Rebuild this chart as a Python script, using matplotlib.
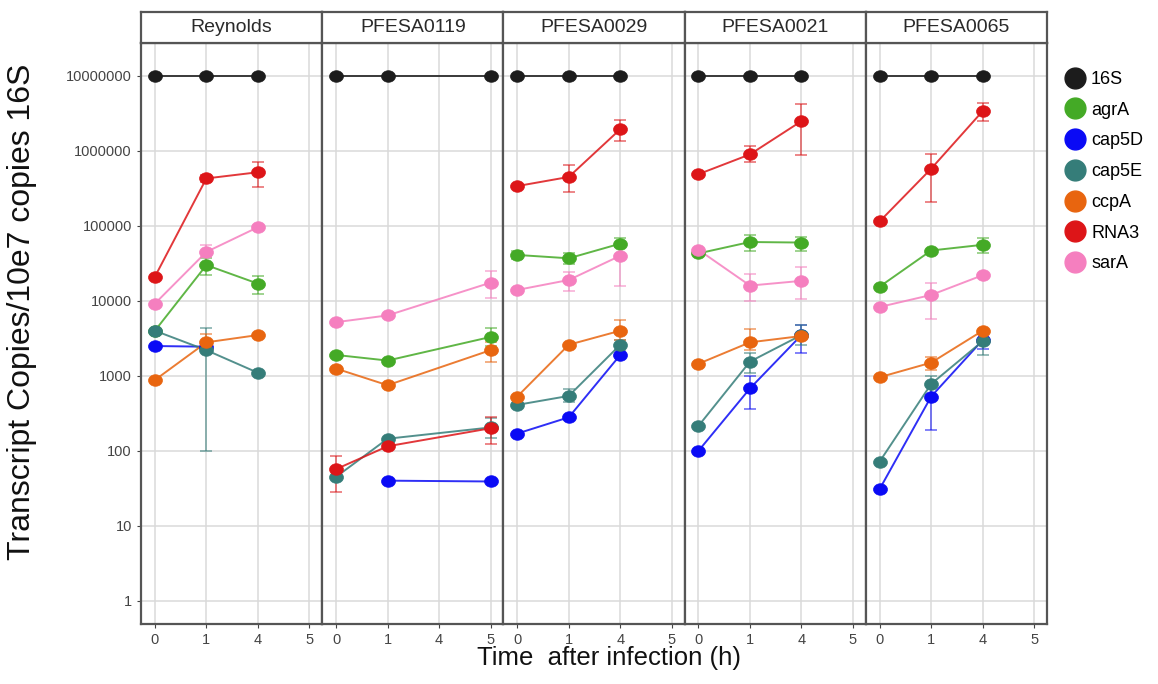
import numpy as np
import matplotlib
matplotlib.use("Agg")
import matplotlib.pyplot as plt
from matplotlib.lines import Line2D
from matplotlib.path import Path

plt.rcParams['font.family'] = ['Liberation Sans', 'DejaVu Sans']

nan = np.nan

# x categories (hours after infection)
times = ['0', '1', '4', '5']
genes = ['16S', 'agrA', 'cap5D', 'cap5E', 'ccpA', 'RNA3', 'sarA']
strains = ['Reynolds', 'PFESA0119', 'PFESA0029', 'PFESA0021', 'PFESA0065']

# mean transcript copies per strain, one value per time category
reynolds = {
    '16S':   [1e7, 1e7, 1e7, nan],
    'agrA':  [4000, 30000, 17000, nan],
    'cap5D': [2500, 2450, nan, nan],
    'cap5E': [4000, 2200, 1100, nan],
    'ccpA':  [880, 2800, 3500, nan],
    'RNA3':  [21000, 430000, 520000, nan],
    'sarA':  [9200, 45000, 96000, nan],
}
pfesa0119 = {
    '16S':   [1e7, 1e7, nan, 1e7],
    'agrA':  [1900, 1600, nan, 3300],
    'cap5D': [nan, 40, nan, 39],
    'cap5E': [45, 145, nan, 205],
    'ccpA':  [1250, 750, nan, 2200],
    'RNA3':  [57, 115, nan, 200],
    'sarA':  [5200, 6400, nan, 17500],
}
pfesa0029 = {
    '16S':   [1e7, 1e7, 1e7, nan],
    'agrA':  [41000, 37000, 58000, nan],
    'cap5D': [170, 280, 1900, nan],
    'cap5E': [410, 540, 2600, nan],
    'ccpA':  [530, 2600, 4000, nan],
    'RNA3':  [340000, 450000, 1.95e6, nan],
    'sarA':  [14000, 19000, 40000, nan],
}
pfesa0021 = {
    '16S':   [1e7, 1e7, 1e7, nan],
    'agrA':  [43000, 61000, 60000, nan],
    'cap5D': [100, 680, 3500, nan],
    'cap5E': [215, 1550, 3500, nan],
    'ccpA':  [1450, 2800, 3400, nan],
    'RNA3':  [490000, 900000, 2.5e6, nan],
    'sarA':  [48000, 16000, 18500, nan],
}
pfesa0065 = {
    '16S':   [1e7, 1e7, 1e7, nan],
    'agrA':  [15500, 47000, 56000, nan],
    'cap5D': [31, 530, 3000, nan],
    'cap5E': [72, 780, 2900, nan],
    'ccpA':  [960, 1500, 4000, nan],
    'RNA3':  [115000, 580000, 3.4e6, nan],
    'sarA':  [8300, 12000, 22000, nan],
}

# error bars: gene -> list of (time index, low, high)
reynolds_err = {
    'agrA':  [(1, 22000, 37000), (2, 12500, 21500)],
    'cap5E': [(1, 100, 4400)],
    'ccpA':  [(1, 2200, 3600)],
    'RNA3':  [(1, 380000, 480000), (2, 330000, 720000)],
    'sarA':  [(1, 38000, 55000)],
}
pfesa0119_err = {
    'agrA':  [(3, 2500, 4300)],
    'cap5E': [(3, 150, 270)],
    'ccpA':  [(3, 1550, 2800)],
    'RNA3':  [(0, 28, 85), (3, 125, 280)],
    'sarA':  [(3, 11000, 25000)],
}
pfesa0029_err = {
    'agrA':  [(0, 36000, 47000), (1, 31000, 43000), (2, 52000, 68000)],
    'cap5E': [(1, 450, 660), (2, 2200, 3000)],
    'ccpA':  [(2, 3000, 5500)],
    'RNA3':  [(1, 280000, 650000), (2, 1.35e6, 2.6e6)],
    'sarA':  [(1, 13500, 24000), (2, 16000, 55000)],
}
pfesa0021_err = {
    'agrA':  [(1, 46000, 75000), (2, 46000, 72000)],
    'cap5D': [(1, 360, 1000), (2, 2000, 4800)],
    'cap5E': [(1, 1100, 2000), (2, 2600, 4800)],
    'ccpA':  [(1, 2200, 4200)],
    'RNA3':  [(1, 720000, 1.15e6), (2, 880000, 4.2e6)],
    'sarA':  [(1, 10000, 23000), (2, 10500, 28000)],
}
pfesa0065_err = {
    'agrA':  [(2, 44000, 68000)],
    'cap5D': [(1, 190, 750), (2, 2300, 3600)],
    'cap5E': [(1, 560, 1000), (2, 1900, 3600)],
    'ccpA':  [(1, 1200, 1800)],
    'RNA3':  [(1, 210000, 920000), (2, 2.5e6, 4.4e6)],
    'sarA':  [(1, 5800, 17500)],
}

panel_data = [reynolds, pfesa0119, pfesa0029, pfesa0021, pfesa0065]
panel_err = [reynolds_err, pfesa0119_err, pfesa0029_err, pfesa0021_err, pfesa0065_err]

colors = {
    '16S': '#1c1c1c',
    'agrA': '#44aa26',
    'cap5D': '#0a0af5',
    'cap5E': '#357d79',
    'ccpA': '#e8650f',
    'RNA3': '#dd1518',
    'sarA': '#f57fbf',
}

# slightly wide dot, like the stretched source image
theta = np.linspace(0, 2 * np.pi, 60)
oval = Path(np.column_stack([1.2 * np.cos(theta), np.sin(theta)]), closed=True)

fig = plt.figure(figsize=(11.58, 6.84), dpi=100)
W, H = 1158.0, 684.0
left_px, right_px = 141, 1047
top_px, bottom_px, strip_top_px = 43, 624, 12
pw = (right_px - left_px) / len(strains)
frame_col = '#555555'

x = np.arange(len(times))
for i, (name, data, err) in enumerate(zip(strains, panel_data, panel_err)):
    x0 = left_px + i * pw
    ax = fig.add_axes([x0 / W, 1 - bottom_px / H, pw / W, (bottom_px - top_px) / H])
    ax.set_yscale('log')
    ax.set_ylim(10 ** -0.31, 10 ** 7.44)
    ax.set_xlim(-0.27, 3.25)
    ax.set_xticks(x)
    ax.set_xticklabels(times)
    ax.set_yticks([10 ** k for k in range(8)])
    ax.yaxis.set_minor_locator(matplotlib.ticker.NullLocator())
    ax.grid(True, color='#dadada', lw=1.1)
    ax.set_axisbelow(True)
    for s in ax.spines.values():
        s.set_color(frame_col)
        s.set_linewidth(1.6)
    ax.tick_params(axis='both', colors='#444444', labelsize=10.5, length=3, width=0.8)
    if i == 0:
        ax.set_yticklabels([str(10 ** k) for k in range(8)])
    else:
        ax.tick_params(axis='y', length=0, labelleft=False)

    for g in genes:
        vals = np.array(data[g], dtype=float)
        ok = ~np.isnan(vals)
        for (ti, lo, hi) in err.get(g, []):
            ax.errorbar([ti], [vals[ti]], yerr=[[vals[ti] - lo], [hi - vals[ti]]],
                        fmt='none', ecolor=colors[g], alpha=0.6, elinewidth=1.2,
                        capsize=4, capthick=1.2, zorder=2)
        ax.plot(x[ok], vals[ok], '-', color=colors[g], lw=1.4, alpha=0.85, zorder=3)
        ax.plot(x[ok], vals[ok], ls='none', marker=oval, color=colors[g], ms=10,
                zorder=4, markeredgecolor=colors[g], markeredgewidth=0.5)

    # facet strip
    sax = fig.add_axes([x0 / W, 1 - top_px / H, pw / W, (top_px - strip_top_px) / H])
    sax.set_xticks([])
    sax.set_yticks([])
    for s in sax.spines.values():
        s.set_color(frame_col)
        s.set_linewidth(1.6)
    sax.text(0.5, 0.5, name, ha='center', va='center', fontsize=14,
             color='#2a2a2a', transform=sax.transAxes)

fig.text(22 / W, 1 - 312 / H, 'Transcript Copies/10e7 copies 16S', rotation=90,
         ha='center', va='center', fontsize=23, color='#111111')
fig.text(609 / W, 1 - 658 / H, 'Time  after infection (h)', ha='center', va='center',
         fontsize=18.5, color='#111111')

handles = [Line2D([], [], ls='none', marker='o', ms=15, color=colors[g]) for g in genes]
fig.legend(handles, genes, loc='upper left', bbox_to_anchor=(1055 / W, 1 - 62 / H),
           frameon=False, fontsize=13, labelspacing=0.76, handletextpad=0.3,
           handlelength=1.2, borderpad=0)

fig.savefig('out.png', dpi=100)
